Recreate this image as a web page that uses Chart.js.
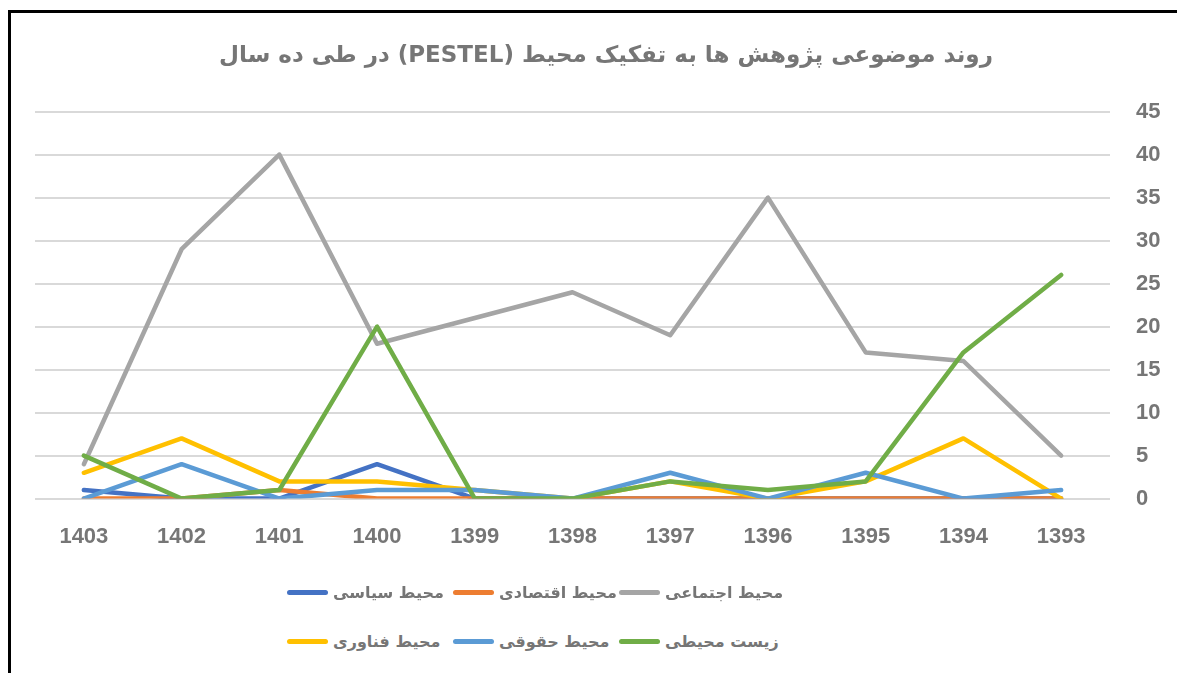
<!DOCTYPE html>
<html>
<head>
<meta charset="utf-8">
<script src="https://cdn.jsdelivr.net/npm/chart.js@4.4.1/dist/chart.umd.min.js"></script>
<style>
  html, body { margin: 0; padding: 0; background: #fff; }
  body { width: 1177px; height: 673px; position: relative; overflow: hidden; }
  #frame {
    position: absolute; left: 8px; top: 10px; width: 1180px; height: 700px;
    border-left: 3px solid #000; border-top: 3px solid #000; box-sizing: border-box;
  }
  #chartBox { position: absolute; left: 10px; top: 12px; width: 1167px; height: 575px; }
  #chartBox canvas { direction: rtl; }
  #legend { position: absolute; left: 287px; top: 583px; }
  .legend-item { position: absolute; display: flex; align-items: center; white-space: nowrap; }
  .legend-line { width: 41px; height: 5px; border-radius: 3px; margin-right: 5px; }
  .legend-text {
    font-family: 'DejaVu Sans', sans-serif; font-weight: bold; font-size: 16px;
    color: #767676; direction: rtl;
  }
</style>
</head>
<body>
<div id="frame"></div>
<div id="chartBox"><canvas id="pestelChart"></canvas></div>
<div id="legend"></div>

<script>
const chartTitle = 'روند موضوعی پژوهش ها به تفکیک محیط (PESTEL) در طی ده سال';

const years = ['1393', '1394', '1395', '1396', '1397', '1398', '1399', '1400', '1401', '1402', '1403'];

const seriesNames = ['محیط سیاسی', 'محیط اقتصادی', 'محیط اجتماعی', 'محیط فناوری', 'محیط حقوقی', 'زیست محیطی'];
const seriesColors = ['#4472C4', '#ED7D31', '#A5A5A5', '#FFC000', '#5B9BD5', '#70AD47'];

const political     = [0, 0, 0, 0, 0, 0, 0, 4, 0, 0, 1];
const economic      = [0, 0, 0, 0, 0, 0, 0, 0, 1, 0, 0];
const social        = [5, 16, 17, 35, 19, 24, 21, 18, 40, 29, 4];
const technological = [0, 7, 2, 0, 2, 0, 1, 2, 2, 7, 3];
const legal         = [1, 0, 3, 0, 3, 0, 1, 1, 0, 4, 0];
const environmental = [26, 17, 2, 1, 2, 0, 0, 20, 1, 0, 5];

const yTicks = [0, 5, 10, 15, 20, 25, 30, 35, 40, 45];

document.addEventListener('DOMContentLoaded', function() {

    const seriesValues = [political, economic, social, technological, legal, environmental];
    const textColor = '#767676';

    const datasets = seriesValues.map((values, i) => ({
        label: seriesNames[i],
        data: values,
        borderColor: seriesColors[i],
        backgroundColor: seriesColors[i],
        borderWidth: 4.5,
        pointRadius: 0,
        borderCapStyle: 'round',
        borderJoinStyle: 'round',
        tension: 0,
        order: seriesValues.length - i
    }));

    const ctx = document.getElementById('pestelChart').getContext('2d');
    new Chart(ctx, {
        type: 'line',
        data: { labels: years, datasets: datasets },
        options: {
            responsive: true,
            maintainAspectRatio: false,
            animation: false,
            layout: { padding: { left: 25, right: 0, top: 0, bottom: 20 } },
            plugins: {
                legend: { display: false },
                tooltip: { enabled: false },
                title: {
                    display: true,
                    text: chartTitle,
                    color: textColor,
                    font: { family: "'DejaVu Sans', sans-serif", size: 23, weight: 'bold' },
                    padding: { top: 30, bottom: 42 }
                }
            },
            scales: {
                x: {
                    reverse: true,
                    offset: true,
                    grid: { display: false },
                    border: { display: false },
                    ticks: {
                        color: textColor,
                        padding: 17,
                        maxRotation: 0,
                        font: { family: "'Liberation Sans', sans-serif", size: 22, weight: 'bold' }
                    }
                },
                y: {
                    position: 'right',
                    min: 0,
                    max: 45,
                    afterBuildTicks: axis => { axis.ticks = yTicks.map(v => ({ value: v })); },
                    afterFit: axis => { axis.width = 67; },
                    grid: { color: '#d9d9d9', lineWidth: 2, drawTicks: false },
                    border: { display: false },
                    ticks: {
                        color: textColor,
                        padding: 26,
                        font: { family: "'Liberation Sans', sans-serif", size: 22, weight: 'bold' }
                    }
                }
            }
        }
    });

    // legend laid out as a 3-column grid, like the original
    const legendBox = document.getElementById('legend');
    seriesNames.forEach((name, i) => {
        const item = document.createElement('div');
        item.className = 'legend-item';
        item.style.left = (i % 3) * 166 + 'px';
        item.style.top = Math.floor(i / 3) * 49 + 'px';
        item.innerHTML = '<div class="legend-line" style="background:' + seriesColors[i] + '"></div>' +
                         '<span class="legend-text">' + name + '</span>';
        legendBox.appendChild(item);
    });
});
</script>
</body>
</html>
